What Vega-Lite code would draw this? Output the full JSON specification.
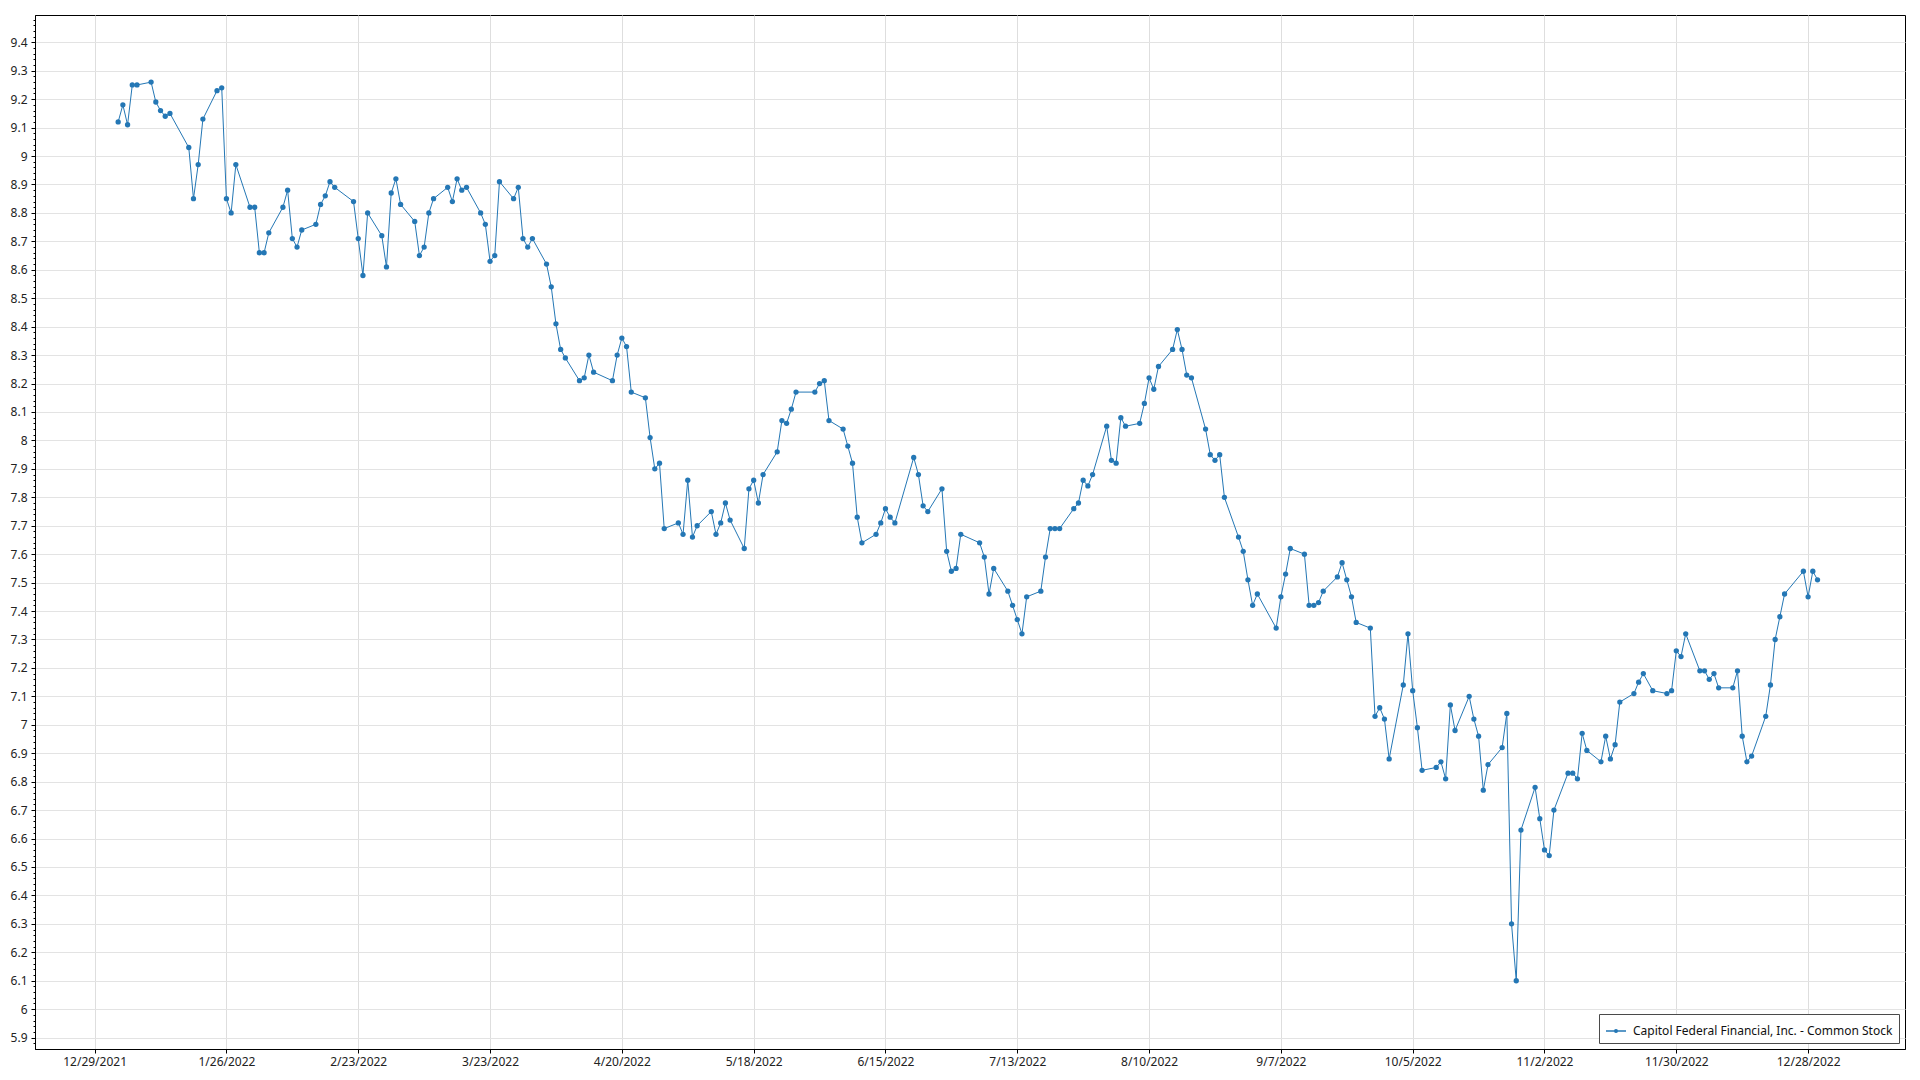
{
  "$schema": "https://vega.github.io/schema/vega-lite/v6.json",
  "autosize": "none",
  "width": 1870,
  "height": 1034,
  "padding": {"left": 35, "top": 15, "right": 15, "bottom": 31},
  "background": "white",
  "config": {
    "view": {"stroke": "#000000", "strokeWidth": 1},
    "font": "Noto Sans"
  },
  "data": {
    "values": [
      {"date": "2022-01-03", "price": 9.12}, {"date": "2022-01-04", "price": 9.18}, {"date": "2022-01-05", "price": 9.11},
      {"date": "2022-01-06", "price": 9.25}, {"date": "2022-01-07", "price": 9.25}, {"date": "2022-01-10", "price": 9.26},
      {"date": "2022-01-11", "price": 9.19}, {"date": "2022-01-12", "price": 9.16}, {"date": "2022-01-13", "price": 9.14},
      {"date": "2022-01-14", "price": 9.15}, {"date": "2022-01-18", "price": 9.03}, {"date": "2022-01-19", "price": 8.85},
      {"date": "2022-01-20", "price": 8.97}, {"date": "2022-01-21", "price": 9.13}, {"date": "2022-01-24", "price": 9.23},
      {"date": "2022-01-25", "price": 9.24}, {"date": "2022-01-26", "price": 8.85}, {"date": "2022-01-27", "price": 8.80},
      {"date": "2022-01-28", "price": 8.97}, {"date": "2022-01-31", "price": 8.82}, {"date": "2022-02-01", "price": 8.82},
      {"date": "2022-02-02", "price": 8.66}, {"date": "2022-02-03", "price": 8.66}, {"date": "2022-02-04", "price": 8.73},
      {"date": "2022-02-07", "price": 8.82}, {"date": "2022-02-08", "price": 8.88}, {"date": "2022-02-09", "price": 8.71},
      {"date": "2022-02-10", "price": 8.68}, {"date": "2022-02-11", "price": 8.74}, {"date": "2022-02-14", "price": 8.76},
      {"date": "2022-02-15", "price": 8.83}, {"date": "2022-02-16", "price": 8.86}, {"date": "2022-02-17", "price": 8.91},
      {"date": "2022-02-18", "price": 8.89}, {"date": "2022-02-22", "price": 8.84}, {"date": "2022-02-23", "price": 8.71},
      {"date": "2022-02-24", "price": 8.58}, {"date": "2022-02-25", "price": 8.80}, {"date": "2022-02-28", "price": 8.72},
      {"date": "2022-03-01", "price": 8.61}, {"date": "2022-03-02", "price": 8.87}, {"date": "2022-03-03", "price": 8.92},
      {"date": "2022-03-04", "price": 8.83}, {"date": "2022-03-07", "price": 8.77}, {"date": "2022-03-08", "price": 8.65},
      {"date": "2022-03-09", "price": 8.68}, {"date": "2022-03-10", "price": 8.80}, {"date": "2022-03-11", "price": 8.85},
      {"date": "2022-03-14", "price": 8.89}, {"date": "2022-03-15", "price": 8.84}, {"date": "2022-03-16", "price": 8.92},
      {"date": "2022-03-17", "price": 8.88}, {"date": "2022-03-18", "price": 8.89}, {"date": "2022-03-21", "price": 8.80},
      {"date": "2022-03-22", "price": 8.76}, {"date": "2022-03-23", "price": 8.63}, {"date": "2022-03-24", "price": 8.65},
      {"date": "2022-03-25", "price": 8.91}, {"date": "2022-03-28", "price": 8.85}, {"date": "2022-03-29", "price": 8.89},
      {"date": "2022-03-30", "price": 8.71}, {"date": "2022-03-31", "price": 8.68}, {"date": "2022-04-01", "price": 8.71},
      {"date": "2022-04-04", "price": 8.62}, {"date": "2022-04-05", "price": 8.54}, {"date": "2022-04-06", "price": 8.41},
      {"date": "2022-04-07", "price": 8.32}, {"date": "2022-04-08", "price": 8.29}, {"date": "2022-04-11", "price": 8.21},
      {"date": "2022-04-12", "price": 8.22}, {"date": "2022-04-13", "price": 8.30}, {"date": "2022-04-14", "price": 8.24},
      {"date": "2022-04-18", "price": 8.21}, {"date": "2022-04-19", "price": 8.30}, {"date": "2022-04-20", "price": 8.36},
      {"date": "2022-04-21", "price": 8.33}, {"date": "2022-04-22", "price": 8.17}, {"date": "2022-04-25", "price": 8.15},
      {"date": "2022-04-26", "price": 8.01}, {"date": "2022-04-27", "price": 7.90}, {"date": "2022-04-28", "price": 7.92},
      {"date": "2022-04-29", "price": 7.69}, {"date": "2022-05-02", "price": 7.71}, {"date": "2022-05-03", "price": 7.67},
      {"date": "2022-05-04", "price": 7.86}, {"date": "2022-05-05", "price": 7.66}, {"date": "2022-05-06", "price": 7.70},
      {"date": "2022-05-09", "price": 7.75}, {"date": "2022-05-10", "price": 7.67}, {"date": "2022-05-11", "price": 7.71},
      {"date": "2022-05-12", "price": 7.78}, {"date": "2022-05-13", "price": 7.72}, {"date": "2022-05-16", "price": 7.62},
      {"date": "2022-05-17", "price": 7.83}, {"date": "2022-05-18", "price": 7.86}, {"date": "2022-05-19", "price": 7.78},
      {"date": "2022-05-20", "price": 7.88}, {"date": "2022-05-23", "price": 7.96}, {"date": "2022-05-24", "price": 8.07},
      {"date": "2022-05-25", "price": 8.06}, {"date": "2022-05-26", "price": 8.11}, {"date": "2022-05-27", "price": 8.17},
      {"date": "2022-05-31", "price": 8.17}, {"date": "2022-06-01", "price": 8.20}, {"date": "2022-06-02", "price": 8.21},
      {"date": "2022-06-03", "price": 8.07}, {"date": "2022-06-06", "price": 8.04}, {"date": "2022-06-07", "price": 7.98},
      {"date": "2022-06-08", "price": 7.92}, {"date": "2022-06-09", "price": 7.73}, {"date": "2022-06-10", "price": 7.64},
      {"date": "2022-06-13", "price": 7.67}, {"date": "2022-06-14", "price": 7.71}, {"date": "2022-06-15", "price": 7.76},
      {"date": "2022-06-16", "price": 7.73}, {"date": "2022-06-17", "price": 7.71}, {"date": "2022-06-21", "price": 7.94},
      {"date": "2022-06-22", "price": 7.88}, {"date": "2022-06-23", "price": 7.77}, {"date": "2022-06-24", "price": 7.75},
      {"date": "2022-06-27", "price": 7.83}, {"date": "2022-06-28", "price": 7.61}, {"date": "2022-06-29", "price": 7.54},
      {"date": "2022-06-30", "price": 7.55}, {"date": "2022-07-01", "price": 7.67}, {"date": "2022-07-05", "price": 7.64},
      {"date": "2022-07-06", "price": 7.59}, {"date": "2022-07-07", "price": 7.46}, {"date": "2022-07-08", "price": 7.55},
      {"date": "2022-07-11", "price": 7.47}, {"date": "2022-07-12", "price": 7.42}, {"date": "2022-07-13", "price": 7.37},
      {"date": "2022-07-14", "price": 7.32}, {"date": "2022-07-15", "price": 7.45}, {"date": "2022-07-18", "price": 7.47},
      {"date": "2022-07-19", "price": 7.59}, {"date": "2022-07-20", "price": 7.69}, {"date": "2022-07-21", "price": 7.69},
      {"date": "2022-07-22", "price": 7.69}, {"date": "2022-07-25", "price": 7.76}, {"date": "2022-07-26", "price": 7.78},
      {"date": "2022-07-27", "price": 7.86}, {"date": "2022-07-28", "price": 7.84}, {"date": "2022-07-29", "price": 7.88},
      {"date": "2022-08-01", "price": 8.05}, {"date": "2022-08-02", "price": 7.93}, {"date": "2022-08-03", "price": 7.92},
      {"date": "2022-08-04", "price": 8.08}, {"date": "2022-08-05", "price": 8.05}, {"date": "2022-08-08", "price": 8.06},
      {"date": "2022-08-09", "price": 8.13}, {"date": "2022-08-10", "price": 8.22}, {"date": "2022-08-11", "price": 8.18},
      {"date": "2022-08-12", "price": 8.26}, {"date": "2022-08-15", "price": 8.32}, {"date": "2022-08-16", "price": 8.39},
      {"date": "2022-08-17", "price": 8.32}, {"date": "2022-08-18", "price": 8.23}, {"date": "2022-08-19", "price": 8.22},
      {"date": "2022-08-22", "price": 8.04}, {"date": "2022-08-23", "price": 7.95}, {"date": "2022-08-24", "price": 7.93},
      {"date": "2022-08-25", "price": 7.95}, {"date": "2022-08-26", "price": 7.80}, {"date": "2022-08-29", "price": 7.66},
      {"date": "2022-08-30", "price": 7.61}, {"date": "2022-08-31", "price": 7.51}, {"date": "2022-09-01", "price": 7.42},
      {"date": "2022-09-02", "price": 7.46}, {"date": "2022-09-06", "price": 7.34}, {"date": "2022-09-07", "price": 7.45},
      {"date": "2022-09-08", "price": 7.53}, {"date": "2022-09-09", "price": 7.62}, {"date": "2022-09-12", "price": 7.60},
      {"date": "2022-09-13", "price": 7.42}, {"date": "2022-09-14", "price": 7.42}, {"date": "2022-09-15", "price": 7.43},
      {"date": "2022-09-16", "price": 7.47}, {"date": "2022-09-19", "price": 7.52}, {"date": "2022-09-20", "price": 7.57},
      {"date": "2022-09-21", "price": 7.51}, {"date": "2022-09-22", "price": 7.45}, {"date": "2022-09-23", "price": 7.36},
      {"date": "2022-09-26", "price": 7.34}, {"date": "2022-09-27", "price": 7.03}, {"date": "2022-09-28", "price": 7.06},
      {"date": "2022-09-29", "price": 7.02}, {"date": "2022-09-30", "price": 6.88}, {"date": "2022-10-03", "price": 7.14},
      {"date": "2022-10-04", "price": 7.32}, {"date": "2022-10-05", "price": 7.12}, {"date": "2022-10-06", "price": 6.99},
      {"date": "2022-10-07", "price": 6.84}, {"date": "2022-10-10", "price": 6.85}, {"date": "2022-10-11", "price": 6.87},
      {"date": "2022-10-12", "price": 6.81}, {"date": "2022-10-13", "price": 7.07}, {"date": "2022-10-14", "price": 6.98},
      {"date": "2022-10-17", "price": 7.10}, {"date": "2022-10-18", "price": 7.02}, {"date": "2022-10-19", "price": 6.96},
      {"date": "2022-10-20", "price": 6.77}, {"date": "2022-10-21", "price": 6.86}, {"date": "2022-10-24", "price": 6.92},
      {"date": "2022-10-25", "price": 7.04}, {"date": "2022-10-26", "price": 6.30}, {"date": "2022-10-27", "price": 6.10},
      {"date": "2022-10-28", "price": 6.63}, {"date": "2022-10-31", "price": 6.78}, {"date": "2022-11-01", "price": 6.67},
      {"date": "2022-11-02", "price": 6.56}, {"date": "2022-11-03", "price": 6.54}, {"date": "2022-11-04", "price": 6.70},
      {"date": "2022-11-07", "price": 6.83}, {"date": "2022-11-08", "price": 6.83}, {"date": "2022-11-09", "price": 6.81},
      {"date": "2022-11-10", "price": 6.97}, {"date": "2022-11-11", "price": 6.91}, {"date": "2022-11-14", "price": 6.87},
      {"date": "2022-11-15", "price": 6.96}, {"date": "2022-11-16", "price": 6.88}, {"date": "2022-11-17", "price": 6.93},
      {"date": "2022-11-18", "price": 7.08}, {"date": "2022-11-21", "price": 7.11}, {"date": "2022-11-22", "price": 7.15},
      {"date": "2022-11-23", "price": 7.18}, {"date": "2022-11-25", "price": 7.12}, {"date": "2022-11-28", "price": 7.11},
      {"date": "2022-11-29", "price": 7.12}, {"date": "2022-11-30", "price": 7.26}, {"date": "2022-12-01", "price": 7.24},
      {"date": "2022-12-02", "price": 7.32}, {"date": "2022-12-05", "price": 7.19}, {"date": "2022-12-06", "price": 7.19},
      {"date": "2022-12-07", "price": 7.16}, {"date": "2022-12-08", "price": 7.18}, {"date": "2022-12-09", "price": 7.13},
      {"date": "2022-12-12", "price": 7.13}, {"date": "2022-12-13", "price": 7.19}, {"date": "2022-12-14", "price": 6.96},
      {"date": "2022-12-15", "price": 6.87}, {"date": "2022-12-16", "price": 6.89}, {"date": "2022-12-19", "price": 7.03},
      {"date": "2022-12-20", "price": 7.14}, {"date": "2022-12-21", "price": 7.30}, {"date": "2022-12-22", "price": 7.38},
      {"date": "2022-12-23", "price": 7.46}, {"date": "2022-12-27", "price": 7.54}, {"date": "2022-12-28", "price": 7.45},
      {"date": "2022-12-29", "price": 7.54}, {"date": "2022-12-30", "price": 7.51}
    ]
  },
  "layer": [
    {
      "mark": {"type": "line", "strokeWidth": 1, "point": {"filled": true, "size": 28}},
      "encoding": {
        "x": {
          "field": "date", "type": "temporal",
          "scale": {"type": "utc", "domain": [{"year": 2021, "month": 12, "date": 16, "hours": 8, "utc": true}, {"year": 2023, "month": 1, "date": 17, "hours": 14, "utc": true}], "nice": false},
          "axis": {
            "title": null,
            "values": [
              {"year": 2021, "month": 12, "date": 29, "utc": true}, {"year": 2022, "month": 1, "date": 26, "utc": true},
              {"year": 2022, "month": 2, "date": 23, "utc": true}, {"year": 2022, "month": 3, "date": 23, "utc": true},
              {"year": 2022, "month": 4, "date": 20, "utc": true}, {"year": 2022, "month": 5, "date": 18, "utc": true},
              {"year": 2022, "month": 6, "date": 15, "utc": true}, {"year": 2022, "month": 7, "date": 13, "utc": true},
              {"year": 2022, "month": 8, "date": 10, "utc": true}, {"year": 2022, "month": 9, "date": 7, "utc": true},
              {"year": 2022, "month": 10, "date": 5, "utc": true}, {"year": 2022, "month": 11, "date": 2, "utc": true},
              {"year": 2022, "month": 11, "date": 30, "utc": true}, {"year": 2022, "month": 12, "date": 28, "utc": true}
            ],
            "format": "%-m/%-d/%Y",
            "grid": true, "gridColor": "#dedede", "gridWidth": 1,
            "domainColor": "#000000", "tickColor": "#000000", "tickSize": 4,
            "labelFont": "Noto Sans", "labelFontSize": 12, "labelColor": "#222222", "labelPadding": 3,
            "labelFlush": false, "labelOverlap": false
          }
        },
        "y": {
          "field": "price", "type": "quantitative",
          "scale": {"domain": [5.86, 9.496], "nice": false, "zero": false},
          "axis": {
            "title": null,
            "values": [5.9, 6.0, 6.1, 6.2, 6.3, 6.4, 6.5, 6.6, 6.7, 6.8, 6.9, 7.0, 7.1, 7.2, 7.3, 7.4, 7.5, 7.6, 7.7, 7.8, 7.9, 8.0, 8.1, 8.2, 8.3, 8.4, 8.5, 8.6, 8.7, 8.8, 8.9, 9.0, 9.1, 9.2, 9.3, 9.4],
            "format": ".1~f",
            "grid": true, "gridColor": "#e3e3e3", "gridWidth": 1,
            "domainColor": "#000000", "tickColor": "#000000", "tickSize": 4,
            "labelFont": "Noto Sans", "labelFontSize": 12, "labelColor": "#222222", "labelPadding": 4,
            "labelFlush": false, "labelOverlap": false
          }
        },
        "color": {
          "datum": "Capitol Federal Financial, Inc. - Common Stock",
          "type": "nominal",
          "scale": {"range": ["#2477b5"]},
          "legend": {
            "title": null,
            "orient": "bottom-right",
            "offset": 6,
            "padding": 6,
            "fillColor": "#ffffff",
            "strokeColor": "#4a4a4a",
            "symbolType": "M-1,0L1,0M0.13,0A0.13,0.13,0,1,1,-0.13,0A0.13,0.13,0,1,1,0.13,0Z",
            "symbolSize": 400,
            "symbolStrokeWidth": 1.5,
            "symbolStrokeColor": "#2477b5",
            "symbolFillColor": "#2477b5",
            "symbolOpacity": 1,
            "labelFont": "Noto Sans",
            "labelFontSize": 12,
            "labelColor": "#111111",
            "labelOffset": 6,
            "labelLimit": 0
          }
        }
      }
    },
    {
      "mark": {"type": "point", "opacity": 0},
      "encoding": {
        "x": {"field": "date", "type": "temporal"},
        "y": {
          "field": "price", "type": "quantitative",
          "axis": {
            "orient": "left",
            "title": null,
            "values": [5.88, 5.92, 5.94, 5.96, 5.98, 6.02, 6.04, 6.06, 6.08, 6.12, 6.14, 6.16, 6.18, 6.22, 6.24, 6.26, 6.28, 6.32, 6.34, 6.36, 6.38, 6.42, 6.44, 6.46, 6.48, 6.52, 6.54, 6.56, 6.58, 6.62, 6.64, 6.66, 6.68, 6.72, 6.74, 6.76, 6.78, 6.82, 6.84, 6.86, 6.88, 6.92, 6.94, 6.96, 6.98, 7.02, 7.04, 7.06, 7.08, 7.12, 7.14, 7.16, 7.18, 7.22, 7.24, 7.26, 7.28, 7.32, 7.34, 7.36, 7.38, 7.42, 7.44, 7.46, 7.48, 7.52, 7.54, 7.56, 7.58, 7.62, 7.64, 7.66, 7.68, 7.72, 7.74, 7.76, 7.78, 7.82, 7.84, 7.86, 7.88, 7.92, 7.94, 7.96, 7.98, 8.02, 8.04, 8.06, 8.08, 8.12, 8.14, 8.16, 8.18, 8.22, 8.24, 8.26, 8.28, 8.32, 8.34, 8.36, 8.38, 8.42, 8.44, 8.46, 8.48, 8.52, 8.54, 8.56, 8.58, 8.62, 8.64, 8.66, 8.68, 8.72, 8.74, 8.76, 8.78, 8.82, 8.84, 8.86, 8.88, 8.92, 8.94, 8.96, 8.98, 9.02, 9.04, 9.06, 9.08, 9.12, 9.14, 9.16, 9.18, 9.22, 9.24, 9.26, 9.28, 9.32, 9.34, 9.36, 9.38, 9.42, 9.44, 9.46, 9.48],
            "labels": false, "grid": false, "domain": false,
            "tickColor": "#000000", "tickSize": 2
          }
        }
      }
    }
  ],
  "resolve": {"axis": {"y": "independent"}}
}
